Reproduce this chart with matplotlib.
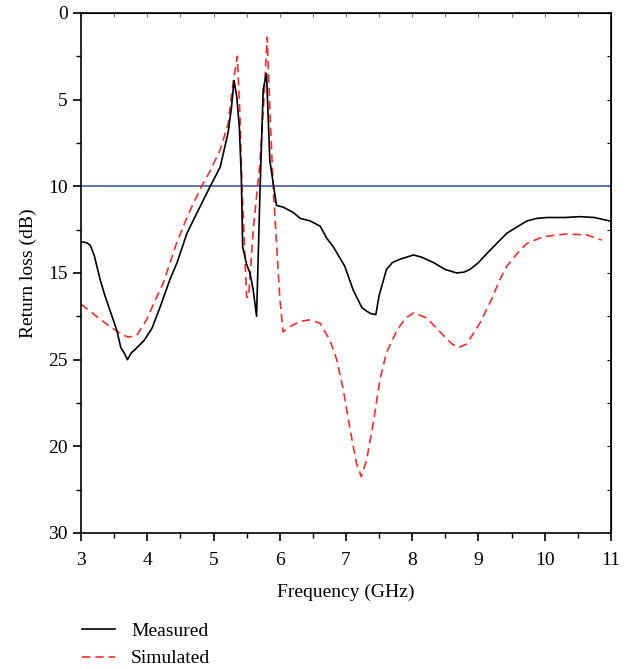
import matplotlib.pyplot as plt
from matplotlib.ticker import MultipleLocator

plt.rcParams['font.family'] = ['Liberation Serif', 'DejaVu Serif']

# measured curve (frequency GHz, return loss dB)
meas_f = [3.0, 3.08, 3.14, 3.20, 3.29, 3.36, 3.45, 3.54, 3.60, 3.65, 3.70, 3.76, 3.82, 3.95, 4.07,
          4.20, 4.34, 4.45, 4.60, 4.78, 4.95, 5.10, 5.22, 5.27, 5.31, 5.35, 5.39, 5.42,
          5.44, 5.50, 5.55, 5.60, 5.65, 5.70, 5.75, 5.80, 5.85, 5.90, 5.95, 6.05, 6.20,
          6.31, 6.46, 6.61, 6.71, 6.81, 6.98, 7.11, 7.24, 7.31, 7.38, 7.45, 7.50, 7.61,
          7.70, 7.82, 8.02, 8.15, 8.32, 8.50, 8.67, 8.78, 8.87, 9.00, 9.12, 9.30, 9.43,
          9.60, 9.73, 9.88, 10.03, 10.30, 10.53, 10.75, 10.98]
meas_db = [13.2, 13.25, 13.4, 14.0, 15.4, 16.3, 17.3, 18.3, 19.3, 19.6, 20.0, 19.6, 19.4, 18.9, 18.2,
           16.9, 15.4, 14.4, 12.7, 11.3, 10.0, 8.9, 6.9, 5.5, 3.9, 4.8, 6.6, 9.5,
           13.5, 14.5, 15.0, 16.0, 17.5, 10.5, 4.4, 3.5, 8.5, 9.8, 11.1, 11.2, 11.5,
           11.85, 12.0, 12.3, 13.0, 13.5, 14.6, 16.0, 17.0, 17.2, 17.35, 17.4, 16.3, 14.8,
           14.4, 14.2, 13.96, 14.1, 14.4, 14.8, 15.0, 14.95, 14.8, 14.4, 13.9, 13.2, 12.7,
           12.3, 12.0, 11.85, 11.8, 11.8, 11.75, 11.8, 12.0]

# simulated curve
sim_f = [3.0, 3.2, 3.44, 3.60, 3.71, 3.84, 3.99, 4.14, 4.24, 4.44, 4.62, 4.82, 4.95,
         5.10, 5.22, 5.30, 5.36, 5.40, 5.43, 5.50, 5.53, 5.60, 5.70, 5.76, 5.81, 5.85,
         5.90, 6.00, 6.05, 6.15, 6.30, 6.46, 6.61, 6.76, 6.86, 6.96, 7.06, 7.16, 7.23,
         7.31, 7.41, 7.51, 7.61, 7.77, 7.90, 8.02, 8.22, 8.47, 8.60, 8.70, 8.82, 9.02,
         9.20, 9.32, 9.43, 9.60, 9.73, 9.98, 10.33, 10.63, 10.86]
sim_db = [16.8, 17.4, 18.1, 18.5, 18.7, 18.6, 17.7, 16.4, 15.6, 13.3, 11.6, 10.0, 9.1,
          7.9, 6.4, 3.9, 2.5, 6.0, 10.0, 16.4, 16.4, 12.5, 8.7, 5.0, 1.4, 5.5,
          10.0, 16.4, 18.4, 18.1, 17.8, 17.7, 17.9, 18.9, 20.0, 21.75, 24.0, 26.0, 26.75,
          25.8, 23.7, 21.2, 19.6, 18.3, 17.6, 17.3, 17.6, 18.6, 19.1, 19.3, 19.1, 17.9,
          16.5, 15.4, 14.6, 13.8, 13.3, 12.9, 12.75, 12.8, 13.1]

ref_level = 10
ytick_vals = [0, 5, 10, 15, 20, 25, 30]
ytick_text = ['0', '5', '10', '15', '25', '20', '30']
xtick_vals = [3, 4, 5, 6, 7, 8, 9, 10, 11]

fig = plt.figure(figsize=(6.34, 6.69), dpi=100)
ax = fig.add_axes([0.1278, 0.2033, 0.8359, 0.7773])

ax.axhline(ref_level, color='#4e68b0', lw=1.3, zorder=1)
l1, = ax.plot(meas_f, meas_db, color='black', lw=1.2, label='Measured', zorder=3)
l2, = ax.plot(sim_f, sim_db, color='#ff2a2a', lw=1.2, linestyle=(0, (5, 3)),
              label='Simulated', zorder=2)

ax.set_xlim(3, 11)
ax.set_ylim(30, 0)
ax.set_xticks(xtick_vals)
ax.set_yticks(ytick_vals)
ax.set_yticklabels(ytick_text)
ax.xaxis.set_minor_locator(MultipleLocator(0.5))
ax.yaxis.set_minor_locator(MultipleLocator(2.5))

ax.tick_params(which='major', direction='out', length=6, width=1.2, labelsize=14,
               top=False, right=False)
ax.tick_params(axis='x', which='major', pad=8)
ax.tick_params(which='minor', direction='out', length=3.5, width=1.0,
               top=False, right=False)
# secondary axes ticks (inward, no labels)
ax_top = ax.secondary_xaxis('top')
ax_top.set_xticks(xtick_vals)
ax_top.xaxis.set_minor_locator(MultipleLocator(0.5))
ax_top.tick_params(which='both', direction='in', length=3, width=0.8, colors='#777777',
                   labeltop=False)
ax_top.spines['top'].set_color('black')
ax_right = ax.secondary_yaxis('right')
ax_right.set_yticks(ytick_vals)
ax_right.yaxis.set_minor_locator(MultipleLocator(2.5))
ax_right.tick_params(which='both', direction='in', length=3, width=0.8, labelright=False)

for s in ax.spines.values():
    s.set_linewidth(1.2)

ax.set_xlabel('Frequency (GHz)', fontsize=14, labelpad=10)
ax.set_ylabel('Return loss (dB)', fontsize=14, labelpad=8)

fig.legend(handles=[l1, l2], loc='upper left', bbox_to_anchor=(0.13, 0.0695),
           frameon=False, fontsize=14, handlelength=1.7, handletextpad=0.8,
           labelspacing=0.5, borderaxespad=0, borderpad=0)

plt.savefig('out.png', dpi=100)
